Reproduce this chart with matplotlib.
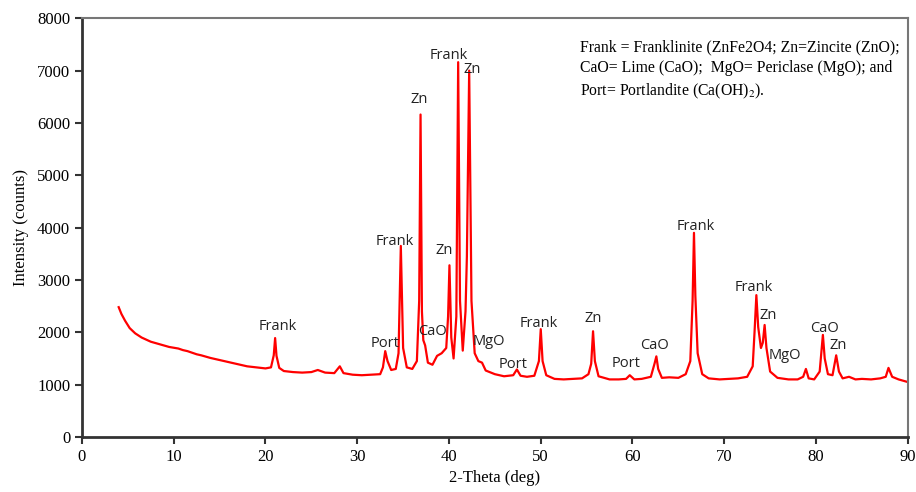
import matplotlib
matplotlib.use("Agg")
import matplotlib.pyplot as plt

# peak/baseline points
two_theta = [4.0, 4.3, 4.7, 5.2, 5.8, 6.5, 7.5, 8.5, 9.5, 10.5, 11.0, 11.5, 12.5, 13.0,
             14.0, 15.0, 16.0, 17.0, 18.0, 19.0, 20.0, 20.6, 20.9, 21.05, 21.2, 21.5,
             22.0, 23.0, 24.0, 25.0, 25.7, 26.5, 27.5, 28.1, 28.5, 29.5, 30.5, 31.5,
             32.5, 32.8, 33.05, 33.3, 33.7, 34.2, 34.5, 34.75, 35.0, 35.4, 36.0, 36.5,
             36.75, 36.9, 37.05, 37.2, 37.4, 37.7, 38.2, 38.7, 39.2, 39.7, 39.9, 40.05,
             40.25, 40.5, 40.8, 41.0, 41.2, 41.5, 41.8, 41.95, 42.2, 42.45, 42.8, 43.2,
             43.6, 44.0, 45.0, 46.0, 47.0, 47.4, 47.8, 48.5, 49.3, 49.8, 50.0, 50.2,
             50.6, 51.5, 52.5, 53.5, 54.5, 55.2, 55.5, 55.7, 55.9, 56.3, 57.5, 58.5,
             59.3, 59.7, 60.2, 61.0, 62.0, 62.4, 62.6, 62.8, 63.2, 64.0, 65.0, 65.8,
             66.3, 66.55, 66.7, 66.85, 67.1, 67.6, 68.3, 69.5, 70.5, 71.5, 72.5, 73.1,
             73.3, 73.5, 73.7, 74.0, 74.2, 74.4, 74.6, 75.0, 75.8, 77.0, 78.0, 78.6,
             78.9, 79.2, 79.8, 80.4, 80.75, 80.95, 81.3, 81.8, 82.2, 82.5, 82.9, 83.6,
             84.3, 85.0, 86.0, 87.0, 87.6, 87.9, 88.3, 89.0, 90.0]
intensity = [2480, 2350, 2220, 2080, 1980, 1900, 1820, 1770, 1720, 1690, 1660, 1640, 1580, 1560,
             1510, 1470, 1430, 1390, 1350, 1330, 1310, 1330, 1560, 1890, 1550, 1320,
             1260, 1240, 1230, 1240, 1280, 1230, 1220, 1350, 1220, 1190, 1180, 1190,
             1200, 1330, 1640, 1450, 1280, 1300, 1600, 3650, 1700, 1330, 1300, 1450,
             2600, 6160, 2400, 1850, 1750, 1420, 1380, 1550, 1600, 1700, 2300, 3280,
             1900, 1500, 2300, 7160, 2600, 1650, 2400, 3450, 7000, 2600, 1600, 1450,
             1420, 1270, 1200, 1160, 1180, 1290, 1170, 1150, 1170, 1450, 2060, 1450,
             1180, 1110, 1100, 1110, 1120, 1200, 1400, 2020, 1450, 1160, 1100, 1100,
             1110, 1180, 1100, 1110, 1150, 1400, 1540, 1300, 1130, 1140, 1130, 1200,
             1450, 2600, 3900, 2700, 1600, 1200, 1120, 1100, 1110, 1120, 1150, 1350,
             2000, 2710, 2100, 1700, 1800, 2140, 1700, 1250, 1130, 1100, 1100, 1150,
             1300, 1120, 1100, 1250, 1950, 1500, 1200, 1180, 1560, 1250, 1120, 1150,
             1100, 1110, 1100, 1120, 1150, 1320, 1150, 1100, 1050]

# phase labels and where they sit
labels = ["Frank", "Port", "Frank", "Zn", "CaO", "Zn", "Frank", "Zn", "MgO", "Port",
          "Frank", "Zn", "Port", "CaO", "Frank", "Frank", "Zn", "MgO", "CaO", "Zn"]
label_x = [21.35, 33.0, 34.1, 36.7, 38.2, 39.5, 40.0, 42.5, 44.3, 47.0,
           49.8, 55.7, 59.3, 62.4, 66.9, 73.2, 74.8, 76.6, 80.9, 82.4]
label_y = [2120, 1790, 3740, 6450, 2020, 3570, 7290, 7020, 1830, 1390,
           2160, 2270, 1410, 1740, 4030, 2860, 2330, 1550, 2080, 1740]

note = ("Frank = Franklinite (ZnFe2O4; Zn=Zincite (ZnO);\n"
        "CaO= Lime (CaO);  MgO= Periclase (MgO); and\n"
        "Port= Portlandite (Ca(OH)$_2$).")

plt.rcParams["mathtext.fontset"] = "stix"
serif = "Liberation Serif"

fig = plt.figure(figsize=(9.16, 4.92), dpi=100)
ax = fig.add_axes([0.0895, 0.1118, 0.9015, 0.8512])

ax.plot(two_theta, intensity, color="#ff0000", lw=1.6)

for t, x, y in zip(labels, label_x, label_y):
    ax.text(x, y, t, ha="center", va="center", fontsize=10.5, color="#222222",
            family="Open Sans")

ax.text(0.603, 0.95, note, transform=ax.transAxes, ha="left", va="top",
        fontsize=11.3, family=serif, linespacing=1.4)

ax.set_xlim(0, 90)
ax.set_ylim(0, 8000)
ax.set_xticks(range(0, 91, 10))
ax.set_yticks(range(0, 8001, 1000))
ax.tick_params(labelsize=12, length=5, width=1.5, color="#333333")
for lab in ax.get_xticklabels() + ax.get_yticklabels():
    lab.set_family(serif)

ax.set_xlabel("2-Theta (deg)", fontsize=12, family=serif, labelpad=4)
ax.set_ylabel("Intensity (counts)", fontsize=12, family=serif, labelpad=6)

for side in ["left", "bottom"]:
    ax.spines[side].set_linewidth(2)
    ax.spines[side].set_color("#333333")
for side in ["top", "right"]:
    ax.spines[side].set_linewidth(1.5)
    ax.spines[side].set_color("#777777")

fig.savefig("out.png", dpi=100)
